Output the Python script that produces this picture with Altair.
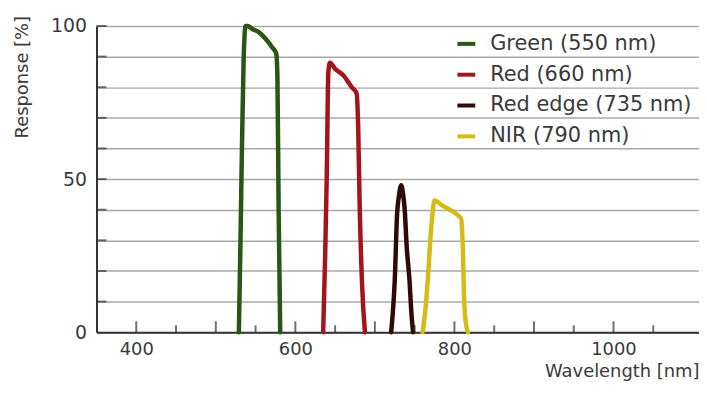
import altair as alt
import pandas as pd

# ---- data ----
bands = ["Green (550 nm)", "Red (660 nm)", "Red edge (735 nm)", "NIR (790 nm)"]
colors = ["#2a5512", "#a3141c", "#2e0a0a", "#d6bb16"]

green_nm = [529, 531, 533, 535, 537.5, 540, 546, 554, 562, 571, 576, 577.5, 579, 581]
green_pct = [0, 29, 62, 89, 100, 100, 99, 98, 96, 93, 91, 83, 40, 0]

red_nm = [635, 637.5, 639.5, 641.5, 643.5, 650, 660, 671, 677, 679, 681, 684, 687.5]
red_pct = [0, 25, 51, 85, 88, 86, 84, 80, 78, 67, 40, 15, 0]

rededge_nm = [720.5, 723, 725, 728, 730, 733, 735.5, 737.5, 740, 743.5, 746, 748]
rededge_pct = [0, 8, 17, 39, 44, 48, 45, 40, 28, 17, 6, 0]

nir_nm = [760, 763, 766.5, 770.5, 773, 775, 784, 794, 803, 808.5, 810.5, 812.5, 815, 817]
nir_pct = [0, 6, 17, 33, 40, 43, 41.5, 40, 38.5, 37, 28, 9, 2, 0]

x_labels = [400, 600, 800, 1000]
x_major_ticks = [400, 500, 600, 700, 800, 900, 1000]
x_minor_ticks = [450, 550, 650, 750, 850, 950, 1050]
y_ticks = [0, 10, 20, 30, 40, 50, 60, 70, 80, 90, 100]
y_inner_ticks = [10, 20, 30, 40, 50, 60, 70, 80, 90, 100]

# ---- build tables ----
rows = []
for name, nms, pcts in zip(bands, [green_nm, red_nm, rededge_nm, nir_nm],
                           [green_pct, red_pct, rededge_pct, nir_pct]):
    for i, (w, r) in enumerate(zip(nms, pcts)):
        rows.append({"band": name, "nm": w, "pct": r, "i": i})
df = pd.DataFrame(rows)

FONT = "DejaVu Sans"
TXT = "#3a3a3a"
AX = "#333333"

x_scale = alt.Scale(domain=[350, 1107.5], nice=False, zero=False)
y_scale = alt.Scale(domain=[0, 100], nice=False)

x_axis = alt.Axis(
    values=x_labels, ticks=False, grid=False, format="d",
    domainColor=AX, domainWidth=2,
    labelFont=FONT, labelFontSize=18, labelColor=TXT, labelPadding=8,
    title="Wavelength [nm]", titleFont=FONT, titleFontSize=18,
    titleFontWeight="normal", titleColor=TXT,
    titleAlign="right", titleBaseline="alphabetic", titleX=606, titleY=45,
)
y_axis = alt.Axis(
    values=y_ticks, ticks=False, grid=True,
    gridColor="#a8a8a8", gridWidth=1.5,
    labelExpr="datum.value % 50 === 0 ? datum.label : ''",
    domainColor=AX, domainWidth=2,
    labelFont=FONT, labelFontSize=19, labelColor=TXT, labelPadding=10,
    title="Response [%]", titleFont=FONT, titleFontSize=18,
    titleFontWeight="normal", titleColor=TXT,
    titleAngle=270, titleAlign="center", titleBaseline="middle",
    titleX=-74, titleY=51,
)

lines = alt.Chart(df).mark_line(strokeWidth=4.5, strokeCap="round",
                                strokeJoin="round", interpolate="monotone").encode(
    x=alt.X("nm:Q", scale=x_scale, axis=x_axis),
    y=alt.Y("pct:Q", scale=y_scale, axis=y_axis),
    color=alt.Color(
        "band:N",
        scale=alt.Scale(domain=bands, range=colors),
        sort=bands,
        legend=alt.Legend(
            orient="none", legendX=361, legendY=7, title=None,
            symbolType="stroke", symbolStrokeWidth=4, symbolSize=324,
            labelFont=FONT, labelFontSize=21, labelColor=TXT, labelLimit=0,
            labelOffset=13, rowPadding=10, padding=0,
        ),
    ),
    order="i:Q",
)

y_tick_layer = alt.Chart(pd.DataFrame({"pct": y_inner_ticks})).mark_tick(
    color=AX, thickness=2, size=10
).encode(
    y=alt.Y("pct:Q", scale=y_scale, axis=y_axis),
    x=alt.value(5),
)

x_major_layer = alt.Chart(pd.DataFrame({"nm": x_major_ticks})).mark_tick(
    color=AX, thickness=2, size=11
).encode(
    x=alt.X("nm:Q", scale=x_scale, axis=x_axis),
    y=alt.value(308 - 5.5),
)

x_minor_layer = alt.Chart(pd.DataFrame({"nm": x_minor_ticks})).mark_tick(
    color=AX, thickness=2, size=7
).encode(
    x=alt.X("nm:Q", scale=x_scale, axis=x_axis),
    y=alt.value(308 - 3.5),
)

chart = alt.layer(lines, y_tick_layer, x_major_layer, x_minor_layer).properties(
    width=606, height=308,
    autosize=alt.AutoSizeParams(type="none"),
    padding={"left": 89, "top": 17, "right": 0, "bottom": 50},
    background="white",
).configure_view(stroke=None)

chart.save("out.html", embed_options={"renderer": "svg", "actions": False})
